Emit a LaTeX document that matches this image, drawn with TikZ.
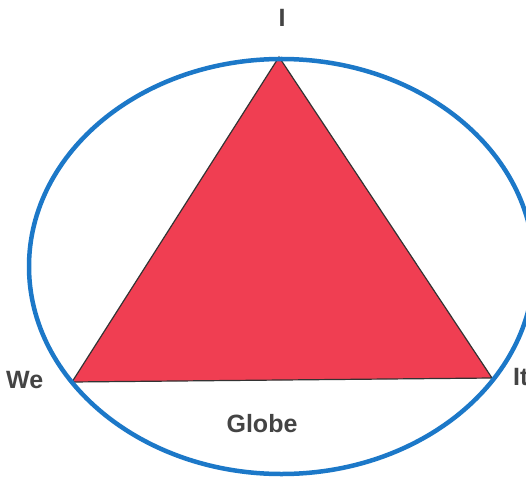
\documentclass[tikz,border=0pt]{standalone}
\usepackage{fontspec}
\setmainfont{Liberation Sans}
\definecolor{tri}{RGB}{240,62,82}
\definecolor{ring}{RGB}{28,120,200}
\definecolor{lbl}{RGB}{68,68,68}
\begin{document}
\begin{tikzpicture}[x=1pt,y=-1pt,
  lab/.style={font=\bfseries\fontsize{25}{25}\selectfont, text=lbl, inner sep=0pt}]
\useasboundingbox (0,0) rectangle (526,478);
\fill[white] (0,0) rectangle (526,478);
\coordinate (top) at (279,57);
\coordinate (left) at (72,382);
\coordinate (right) at (492,378);
\draw[tri, fill=tri, draw=black!80, line width=1.2pt, line join=miter] (top) -- (left) -- (right) -- cycle;
\draw[ring, line width=4.5pt] (281.5,266.5) ellipse [x radius=252.5, y radius=207.5];
\node[lab] (i) at (282,18) {I};
\node[lab, anchor=west] (we) at (6,380) {We};
\node[lab, anchor=west] (it) at (513,377) {It};
\node[lab] (globe) at (262,424) {Globe};
\end{tikzpicture}
\end{document}
